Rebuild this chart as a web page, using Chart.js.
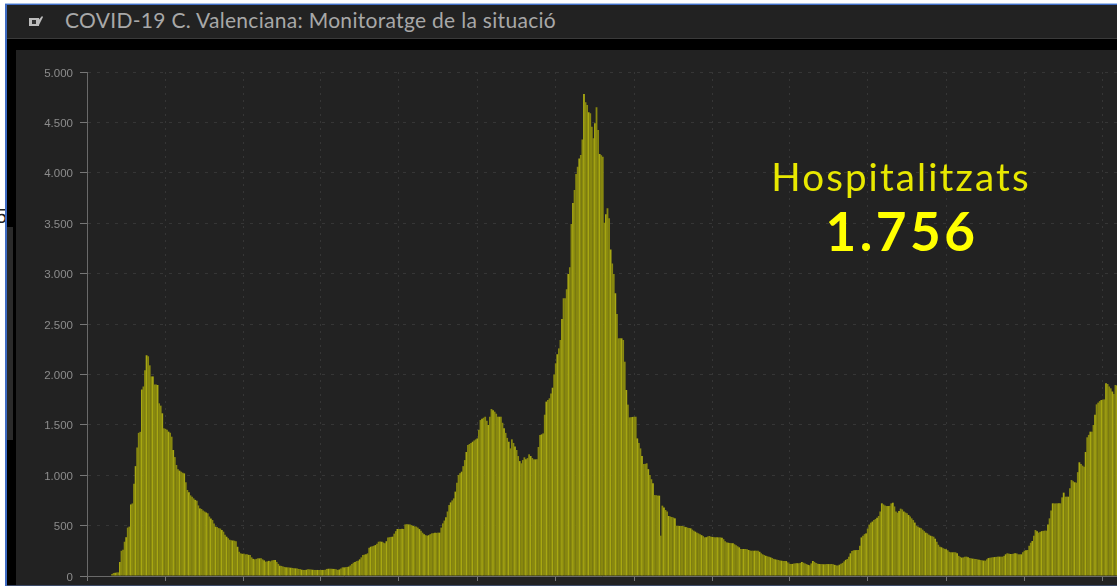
<!DOCTYPE html>
<html>
<head>
<meta charset="utf-8">
<title>COVID-19 C. Valenciana</title>
<script src="https://cdn.jsdelivr.net/npm/chart.js@4"></script>
<style>
    html, body { margin: 0; padding: 0; width: 1117px; height: 586px; overflow: hidden; background: #fff; }
    #frame { position: absolute; left: 5px; top: 3px; width: 1112px; height: 583px; background: #000;
        border-left: 2px solid #3f6cc4; border-top: 2px solid #3f6cc4; box-sizing: border-box; }
    #topline { position: absolute; left: 5px; top: 3px; width: 1112px; height: 1px; background: #a9c3ea; }
    #bar { position: absolute; left: 7px; top: 5px; width: 1110px; height: 33px; background: #222; border-bottom: 1px solid #3a3a3a; }
    #title { position: absolute; left: 65px; top: 7px; font: 400 21px Lato, sans-serif; letter-spacing: 0.3px; color: #a8a8a8; white-space: nowrap; }
    #icon { position: absolute; left: 28px; top: 15px; }
    #strip { position: absolute; left: 7px; top: 227px; width: 6px; height: 213px; background: #2a2a2a; }
    #stray { position: absolute; left: -4px; top: 205px; font: 400 20px "Liberation Sans", sans-serif; color: #222; }
    #panel { position: absolute; left: 16px; top: 50px; width: 1101px; height: 536px; }
    #bottomline { position: absolute; left: 7px; top: 585px; width: 1110px; height: 1px; background: #3b4a68; }
    #label { position: absolute; left: 701px; top: 153px; width: 400px; text-align: center; font: 400 38.5px Lato, sans-serif;
        color: #e8e800; letter-spacing: 2.1px; }
    #number { position: absolute; left: 702px; top: 199px; width: 400px; text-align: center; font: 700 53px Lato, sans-serif;
        color: #ffff00; letter-spacing: 3.5px; }
</style>
</head>
<body>
<div id="stray">5</div>
<div id="frame"></div>
<div id="topline"></div>
<div id="bar"></div>
<svg id="icon" width="16" height="13" viewBox="0 0 16 13">
    <rect x="1" y="3" width="10" height="8" fill="#bdbdbd"/>
    <rect x="4" y="5" width="4" height="4" fill="#333"/>
    <path d="M9 7 L14 1 L15 2 L11 10 Z" fill="#bdbdbd"/>
</svg>
<div id="title">COVID-19 C. Valenciana: Monitoratge de la situació</div>
<div id="strip"></div>
<div id="panel"><canvas id="chart" width="1101" height="536"></canvas></div>
<div id="bottomline"></div>
<div id="label">Hospitalitzats</div>
<div id="number">1.756</div>

<script>
const hospitalitzats = [
    0, 0, 0, 0, 0, 0, 0, 0, 0, 0,
    0, 0, 0, 0, 0, 0, 20, 30, 32, 35,
    36, 140, 250, 260, 340, 385, 480, 490, 710, 720,
    915, 1090, 1275, 1420, 1430, 1850, 1880, 2040, 2190, 2180,
    2090, 1980, 1980, 1900, 1900, 1895, 1713, 1690, 1614, 1465,
    1460, 1450, 1432, 1420, 1382, 1250, 1180, 1101, 1060, 1045,
    1035, 1025, 1018, 930, 853, 830, 800, 787, 770, 755,
    747, 700, 671, 665, 650, 640, 630, 622, 590, 570,
    555, 520, 490, 485, 475, 470, 456, 440, 410, 390,
    375, 360, 355, 352, 350, 345, 290, 241, 225, 220,
    222, 215, 215, 210, 208, 185, 170, 165, 170, 175,
    175, 175, 165, 155, 142, 145, 150, 145, 155, 158,
    159, 140, 120, 102, 100, 95, 90, 86, 86, 84,
    82, 80, 78, 76, 74, 70, 68, 62, 60, 60,
    62, 66, 66, 64, 62, 60, 60, 60, 60, 60,
    60, 60, 62, 70, 72, 72, 72, 70, 70, 66,
    60, 65, 75, 86, 85, 88, 90, 93, 105, 120,
    132, 140, 148, 152, 165, 185, 208, 212, 215, 225,
    280, 290, 295, 300, 307, 320, 340, 342, 340, 332,
    325, 345, 383, 385, 388, 390, 420, 445, 466, 466,
    466, 468, 466, 512, 514, 512, 512, 505, 496, 492,
    490, 480, 465, 450, 430, 415, 405, 400, 405, 415,
    423, 425, 428, 428, 430, 430, 480, 522, 550, 582,
    640, 704, 730, 750, 770, 837, 925, 1002, 1020, 1035,
    1090, 1150, 1230, 1300, 1310, 1320, 1332, 1345, 1355, 1365,
    1450, 1547, 1560, 1570, 1580, 1540, 1498, 1580, 1657, 1645,
    1630, 1610, 1580, 1580, 1580, 1520, 1465, 1420, 1370, 1332,
    1266, 1356, 1320, 1285, 1250, 1190, 1140, 1118, 1150, 1177,
    1157, 1170, 1207, 1190, 1170, 1157, 1157, 1157, 1280, 1399,
    1405, 1415, 1600, 1730, 1745, 1763, 1810, 1868, 2000, 2110,
    2200, 2258, 2341, 2550, 2755, 2755, 2844, 2996, 3062, 3492,
    3700, 3829, 3988, 4060, 4143, 4177, 4331, 4782, 4700, 4672,
    4600, 4590, 4458, 4342, 4491, 4650, 4425, 4187, 4175, 4160,
    3505, 3590, 3648, 3548, 3240, 3100, 2996, 2804, 2599, 2358,
    2358, 2358, 2341, 2126, 1845, 1700, 1574, 1576, 1578, 1580,
    1580, 1365, 1320, 1266, 1190, 1111, 1112, 1118, 1060, 1002,
    960, 919, 803, 800, 798, 797, 400, 698, 680, 655,
    640, 595, 590, 585, 580, 572, 499, 498, 497, 497,
    496, 490, 485, 480, 476, 473, 460, 450, 440, 430,
    423, 415, 405, 395, 383, 385, 392, 397, 390, 388,
    385, 384, 384, 383, 383, 380, 365, 345, 334, 330,
    328, 326, 324, 315, 305, 295, 284, 268, 268, 268,
    268, 265, 258, 252, 251, 251, 251, 251, 251, 240,
    225, 215, 208, 200, 195, 190, 185, 178, 170, 165,
    162, 159, 155, 152, 150, 149, 148, 135, 122, 119,
    120, 124, 126, 127, 126, 130, 139, 132, 125, 118,
    110, 106, 125, 149, 140, 128, 122, 119, 118, 118,
    116, 117, 118, 118, 118, 119, 116, 110, 105, 103,
    112, 122, 130, 145, 160, 169, 190, 225, 248, 255,
    256, 258, 258, 300, 383, 400, 415, 423, 470, 510,
    529, 540, 555, 565, 578, 595, 640, 721, 710, 700,
    694, 694, 696, 720, 727, 690, 640, 628, 645, 668,
    660, 640, 630, 622, 605, 590, 572, 555, 530, 499,
    490, 480, 473, 460, 445, 430, 423, 410, 400, 395,
    390, 370, 340, 310, 291, 285, 275, 270, 265, 255,
    240, 235, 235, 235, 235, 225, 200, 190, 182, 185,
    190, 192, 185, 178, 175, 172, 170, 169, 165, 160,
    158, 155, 153, 152, 165, 178, 182, 184, 186, 188,
    190, 192, 192, 192, 192, 200, 215, 225, 222, 218,
    218, 222, 225, 224, 215, 215, 215, 235, 251, 255,
    258, 300, 330, 347, 400, 456, 445, 430, 438, 445,
    448, 450, 450, 510, 572, 650, 721, 720, 720, 721,
    721, 721, 780, 827, 787, 787, 787, 870, 952, 940,
    930, 926, 1030, 1128, 1110, 1095, 1085, 1230, 1376, 1400,
    1432, 1432, 1498, 1600, 1703, 1720, 1735, 1746, 1750, 1752,
    1911, 1905, 1880, 1862, 1830, 1806, 1895, 1890
];

const dies = hospitalitzats.map((v, i) => i);
const yTicks = [0, 500, 1000, 1500, 2000, 2500, 3000, 3500, 4000, 4500, 5000];
const xTicks = [0, 50, 100, 149, 199, 249, 299, 349, 399, 448, 498, 548, 598, 648];

// the screenshot was resampled, which left a brighter stripe every 5 px or so
const isStripe = i => Math.floor((i + 3) * 5 / 17) !== Math.floor((i + 2) * 5 / 17);

const ctx = document.getElementById('chart').getContext('2d');

new Chart(ctx, {
    type: 'bar',
    data: {
        labels: dies,
        datasets: [{
            label: 'Hospitalitzats',
            data: hospitalitzats,
            backgroundColor: c => isStripe(c.dataIndex) ? '#a8a812' : '#88880f',
            borderWidth: 0,
            barPercentage: 1.15,
            categoryPercentage: 1
        }]
    },
    plugins: [{
        id: 'panelBackground',
        beforeDraw(chart) {
            chart.ctx.fillStyle = '#222222';
            chart.ctx.fillRect(0, 0, chart.width, chart.height);
        }
    }],
    options: {
        responsive: false,
        animation: false,
        layout: { padding: { top: 22, right: 0, bottom: 0, left: 0 } },
        plugins: { legend: { display: false }, title: { display: false }, tooltip: { enabled: false } },
        scales: {
            x: {
                offset: false,
                afterBuildTicks(scale) {
                    scale.ticks = xTicks.map(v => ({ value: v }));
                },
                afterFit(scale) {
                    scale.height = 10;
                },
                ticks: { display: false, autoSkip: false },
                grid: {
                    offset: false,
                    color: '#363636',
                    tickColor: '#777777',
                    tickLength: 5,
                    tickBorderDash: [],
                    lineWidth: 1
                },
                border: { color: '#6a6a6a', dash: [2, 5] }
            },
            y: {
                min: 0,
                max: 5000,
                afterBuildTicks(scale) {
                    scale.ticks = yTicks.map(v => ({ value: v }));
                },
                afterFit(scale) {
                    scale.width = 71;
                    scale.paddingTop = 0;
                    scale.paddingBottom = 0;
                },
                ticks: {
                    color: '#8c8c8c',
                    font: { family: '"Liberation Sans", Arial, sans-serif', size: 11.5 },
                    padding: 7,
                    labelOffset: 1.5,
                    callback: v => v >= 1000 ? String(v).slice(0, -3) + '.' + String(v).slice(-3) : String(v)
                },
                grid: {
                    color: '#363636',
                    tickColor: '#777777',
                    tickLength: 7,
                    tickBorderDash: []
                },
                border: { color: '#6a6a6a', dash: [3, 6] }
            }
        }
    }
});
</script>
</body>
</html>
